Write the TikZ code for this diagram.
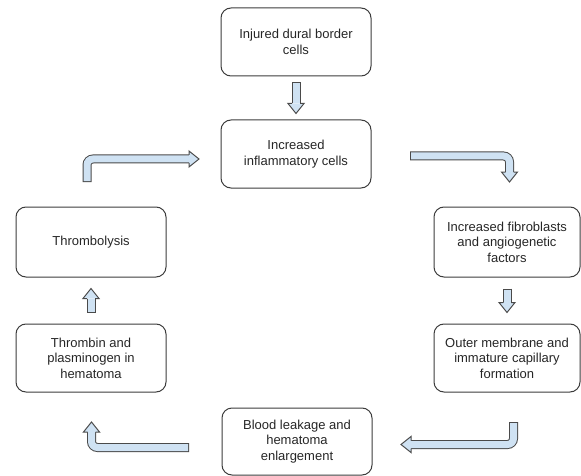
\documentclass[tikz,border=0pt]{standalone}
\usepackage{fontspec}
\setmainfont{Liberation Sans}
\usetikzlibrary{positioning,calc}
\definecolor{arrfill}{HTML}{CFE2F3}
\definecolor{arrline}{HTML}{4A4A4A}
\definecolor{boxline}{HTML}{3C3C3C}
\definecolor{txt}{HTML}{262626}

\begin{document}
\begin{tikzpicture}[x=1pt, y=-1pt,
    box/.style={draw=boxline, line width=1pt, rounded corners=10pt,
      minimum width=150pt, minimum height=68pt, inner sep=0pt,
      align=center, text=txt, font=\fontsize{13}{15.5}\selectfont},
    shaftout/.style={draw=arrline, line width=9pt, rounded corners=6pt},
    shaftin/.style={draw=arrfill, line width=7pt, rounded corners=6pt, shorten <=1pt},
    blkhead/.pic={\filldraw[fill=arrfill, draw=arrline, line width=1pt]
      (-10,-4) -- (-10,-8) -- (0,0) -- (-10,8) -- (-10,4);}]
  \useasboundingbox (0,0) rectangle (581,476);

  % boites
  \node[box] (inj) at (296,42) {Injured dural border\\cells};
  \node[box, below=43pt of inj] (inc) {Increased\\inflammatory cells};
  \node[box, minimum height=70pt] (thr) at (91,242) {Thrombolysis};
  \node[box, minimum height=70pt, minimum width=146pt] (fib) at (507,242)
    {Increased fibroblasts\\and angiogenetic\\factors};
  \node[box, below=46pt of thr] (tpl) {Thrombin and\\plasminogen in\\hematoma};
  \node[box, minimum width=146pt, below=46pt of fib] (out)
    {Outer membrane and\\immature capillary\\formation};
  \node[box, minimum height=67pt] (bld) at (297,441.5)
    {Blood leakage and\\hematoma\\enlargement};

  % fleches droites
  \foreach \s/\t/\r/\g in {inj.south/inc.north/-90/6pt, fib.south/out.north/-90/11pt,
      tpl.north/thr.south/90/11pt} {
    \coordinate (tl) at ($(\s)!\g!(\t)$);
    \coordinate (tp) at ($(\t)!\g!(\s)$);
    \draw[shaftout] (tl) -- ($(tp)!10pt!(tl)$);
    \draw[shaftin] (tl) -- ($(tp)!10pt!(tl)$);
    \pic[rotate=\r] at (tp) {blkhead};
  }

  % fleches coudees
  \coordinate (lt1) at (87,182);    \coordinate (lt2) at (199,159);
  \coordinate (rt1) at (410,156);   \coordinate (rt2) at (509.5,182);
  \coordinate (rb1) at (513.5,422); \coordinate (rb2) at (401,444.5);
  \coordinate (lb1) at (189,447.5); \coordinate (lb2) at (91.5,422);

  \draw[shaftout] (lt1) |- ($(lt2)+(-10,0)$);
  \draw[shaftin] (lt1) |- ($(lt2)+(-10,0)$);
  \pic at (lt2) {blkhead};

  \draw[shaftout] (rt1) -| ($(rt2)+(0,-10)$);
  \draw[shaftin] (rt1) -| ($(rt2)+(0,-10)$);
  \pic[rotate=-90] at (rt2) {blkhead};

  \draw[shaftout] (rb1) |- ($(rb2)+(10,0)$);
  \draw[shaftin] (rb1) |- ($(rb2)+(10,0)$);
  \pic[rotate=180] at (rb2) {blkhead};

  \draw[shaftout] (lb1) -| ($(lb2)+(0,10)$);
  \draw[shaftin] (lb1) -| ($(lb2)+(0,10)$);
  \pic[rotate=90] at (lb2) {blkhead};
\end{tikzpicture}
\end{document}
